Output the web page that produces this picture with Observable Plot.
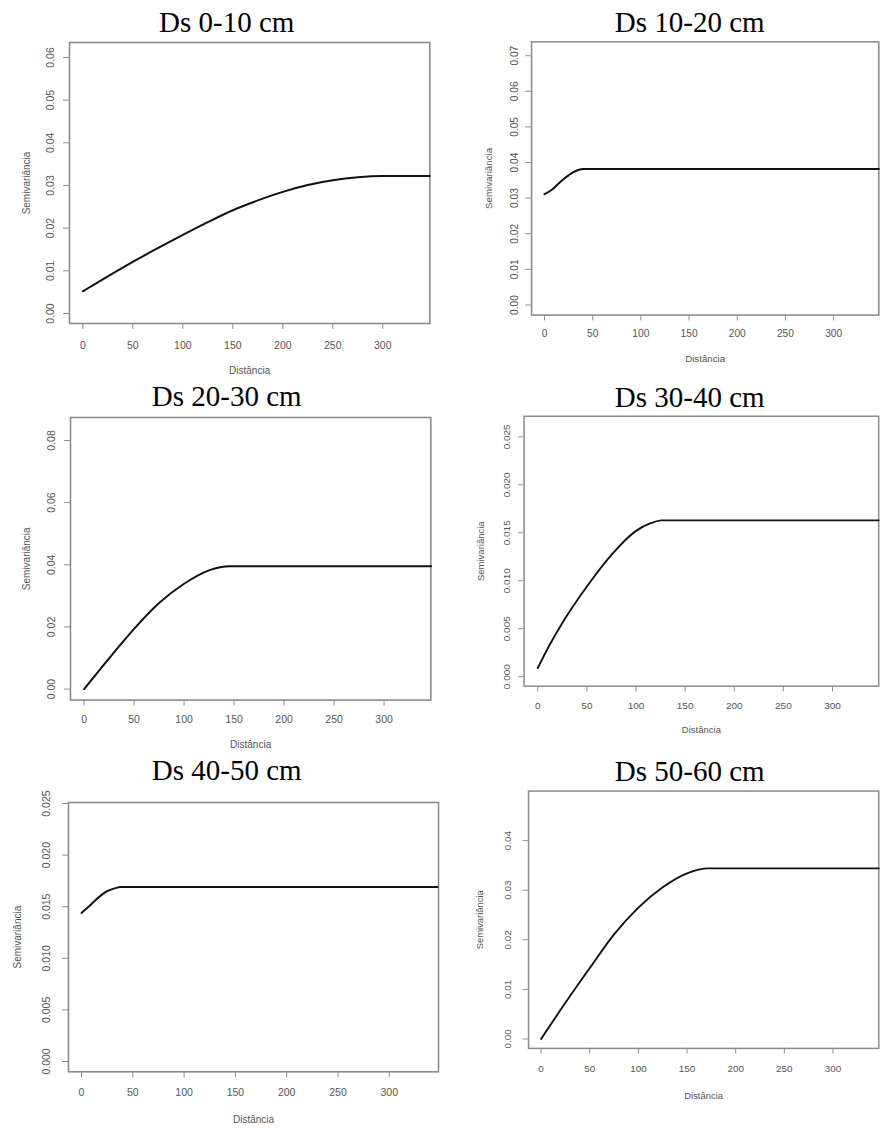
<!DOCTYPE html>
<html><head><meta charset="utf-8">
<script src="https://cdn.jsdelivr.net/npm/d3@7"></script>
<script src="https://cdn.jsdelivr.net/npm/@observablehq/plot@0.6"></script>
<style>
html,body{margin:0;padding:0;background:#fff;}
#page{position:relative;width:888px;height:1128px;overflow:hidden;background:#fff;}
.title{position:absolute;font-family:"Liberation Serif","Times New Roman",serif;font-size:29px;color:#000;white-space:nowrap;transform:translateX(-50%);line-height:1;}
.panel{position:absolute;}
.panel svg{display:block;}
</style></head><body><div id="page"></div>
<script>
// ---- data ----
const titles = ["Ds 0-10 cm", "Ds 10-20 cm", "Ds 20-30 cm", "Ds 30-40 cm", "Ds 40-50 cm", "Ds 50-60 cm"];
const xLabel = "Distância";
const yLabel = "Semivariância";
const xTicks = [0, 50, 100, 150, 200, 250, 300];

const dist1 = [0, 10, 25, 50, 75, 100, 125, 150, 175, 200, 225, 250, 275, 300, 347];
const semi1 = [0.0052, 0.0066, 0.0087, 0.0121, 0.0153, 0.0184, 0.0214, 0.0242, 0.0265, 0.0285, 0.0301, 0.0312, 0.0319, 0.0322, 0.0322];
const yTicks1 = [0, 0.01, 0.02, 0.03, 0.04, 0.05, 0.06];

const dist2 = [0, 8, 15, 20, 25, 30, 35, 40, 347];
const semi2 = [0.0311, 0.0324, 0.0342, 0.0354, 0.0364, 0.0373, 0.0379, 0.0382, 0.0382];
const yTicks2 = [0, 0.01, 0.02, 0.03, 0.04, 0.05, 0.06, 0.07];

const dist3 = [0, 25, 50, 75, 100, 125, 146, 347];
const semi3 = [0, 0.0099, 0.0194, 0.0277, 0.0339, 0.0382, 0.0395, 0.0395];
const yTicks3 = [0, 0.02, 0.04, 0.06, 0.08];

const dist4 = [0, 12, 25, 50, 75, 100, 115, 126, 347];
const semi4 = [0.0009, 0.0033, 0.0056, 0.0094, 0.0127, 0.0152, 0.0160, 0.0163, 0.0163];
const yTicks4 = [0, 0.005, 0.01, 0.015, 0.02, 0.025];

const dist5 = [0, 9, 19, 25, 33, 38, 347];
const semi5 = [0.0144, 0.0152, 0.0161, 0.0165, 0.0168, 0.0169, 0.0169];
const yTicks5 = [0, 0.005, 0.01, 0.015, 0.02, 0.025];

const dist6 = [0, 25, 50, 75, 100, 125, 150, 172, 347];
const semi6 = [0, 0.0073, 0.0143, 0.0211, 0.0265, 0.0306, 0.0334, 0.0344, 0.0344];
const yTicks6 = [0, 0.01, 0.02, 0.03, 0.04];

const series = [[dist1, semi1, yTicks1, 2], [dist2, semi2, yTicks2, 2], [dist3, semi3, yTicks3, 2],
                [dist4, semi4, yTicks4, 3], [dist5, semi5, yTicks5, 3], [dist6, semi6, yTicks6, 2]];

// ---- layout (frame edges in page px, scale domains, label offsets) ----
const layout = [
  {L: 69,    T: 42.3,  R: 429.3, B: 323.3, xd: [-13.3, 347],  yd: [-0.00234, 0.0635], yPad: 9.4,  xPad: 12,  yTitle: 42.3, xTitle: 47.4, tx: 226.7, tb: 32.3},
  {L: 533,   T: 41.7,  R: 890,   B: 322.7, xd: [-13.4, 346.8], yd: [-0.00284, 0.0739], yPad: 8.4,  xPad: 9.4, yTitle: 44,   xTitle: 45,   tx: 689.7, tb: 32},
  {L: 69.7,  T: 416.7, R: 430,   B: 699.3, xd: [-13.6, 346.7], yd: [-0.00354, 0.0874], yPad: 10,   xPad: 9.4, yTitle: 43.7, xTitle: 44.7, tx: 226.7, tb: 406.7},
  {L: 527.3, T: 417.3, R: 900,   B: 701,   xd: [-13.95, 347],  yd: [-0.00099, 0.02715], yPad: 8.7, xPad: 10.4, yTitle: 45,  xTitle: 45.7, tx: 689.7, tb: 407.3},
  {L: 67.7,  T: 801.7, R: 437.7, B: 1071,  xd: [-12.7, 348],  yd: [-0.001, 0.0251],   yPad: 13,   xPad: 11,  yTitle: 50.4, xTitle: 48.3, tx: 226.7, tb: 780.7},
  {L: 532.3, T: 792.3, R: 903.4, B: 1065,  xd: [-12.9, 347],  yd: [-0.0019, 0.05],    yPad: 12.7, xPad: 12,  yTitle: 51,   xTitle: 50,   tx: 689.7, tb: 781}
];

const page = document.getElementById("page");
const mL = 70, mR = 10, mT = 25, mB = 62;
const gray = "#8c8c8c";
const textGray = "#555555";

layout.forEach((g, i) => {
  const [dist, semi, yTicks, dec] = series[i];
  const data = dist.map((d, j) => ({d, s: semi[j]}));
  const w = (g.R - g.L) + mL + mR;
  const h = (g.B - g.T) + mT + mB;
  const chart = Plot.plot({
    width: w, height: h,
    marginLeft: mL, marginRight: mR, marginTop: mT, marginBottom: mB,
    style: {fontFamily: "'Liberation Sans', Arial, sans-serif", fontSize: "10.5px", background: "transparent", overflow: "visible"},
    x: {domain: g.xd},
    y: {domain: g.yd},
    marks: [
      Plot.axisX({ticks: xTicks, tickSize: 6, tickPadding: g.xPad, tickFormat: d => String(d), stroke: gray, fill: textGray, label: null}),
      Plot.axisY({ticks: yTicks, tickSize: 6, tickPadding: g.yPad, tickRotate: -90, tickFormat: d => d.toFixed(dec), stroke: gray, fill: textGray, label: null}),
      Plot.text([xLabel], {frameAnchor: "bottom", dy: g.xTitle, lineAnchor: "middle", fill: textGray, fontSize: 10}),
      Plot.text([yLabel], {frameAnchor: "left", dx: -g.yTitle, rotate: -90, textAnchor: "middle", lineAnchor: "middle", fill: textGray, fontSize: 10}),
      Plot.frame({stroke: gray, strokeWidth: 1.6}),
      Plot.line(data, {x: "d", y: "s", curve: "monotone-x", stroke: "#111", strokeWidth: 2})
    ]
  });
  const div = document.createElement("div");
  div.className = "panel";
  div.style.left = (g.L - mL) + "px";
  div.style.top = (g.T - mT) + "px";
  div.appendChild(chart);
  page.appendChild(div);

  const t = document.createElement("div");
  t.className = "title";
  t.textContent = titles[i];
  t.style.left = g.tx + "px";
  t.style.top = (g.tb - 24.3) + "px";
  page.appendChild(t);
});
</script>
</body></html>
